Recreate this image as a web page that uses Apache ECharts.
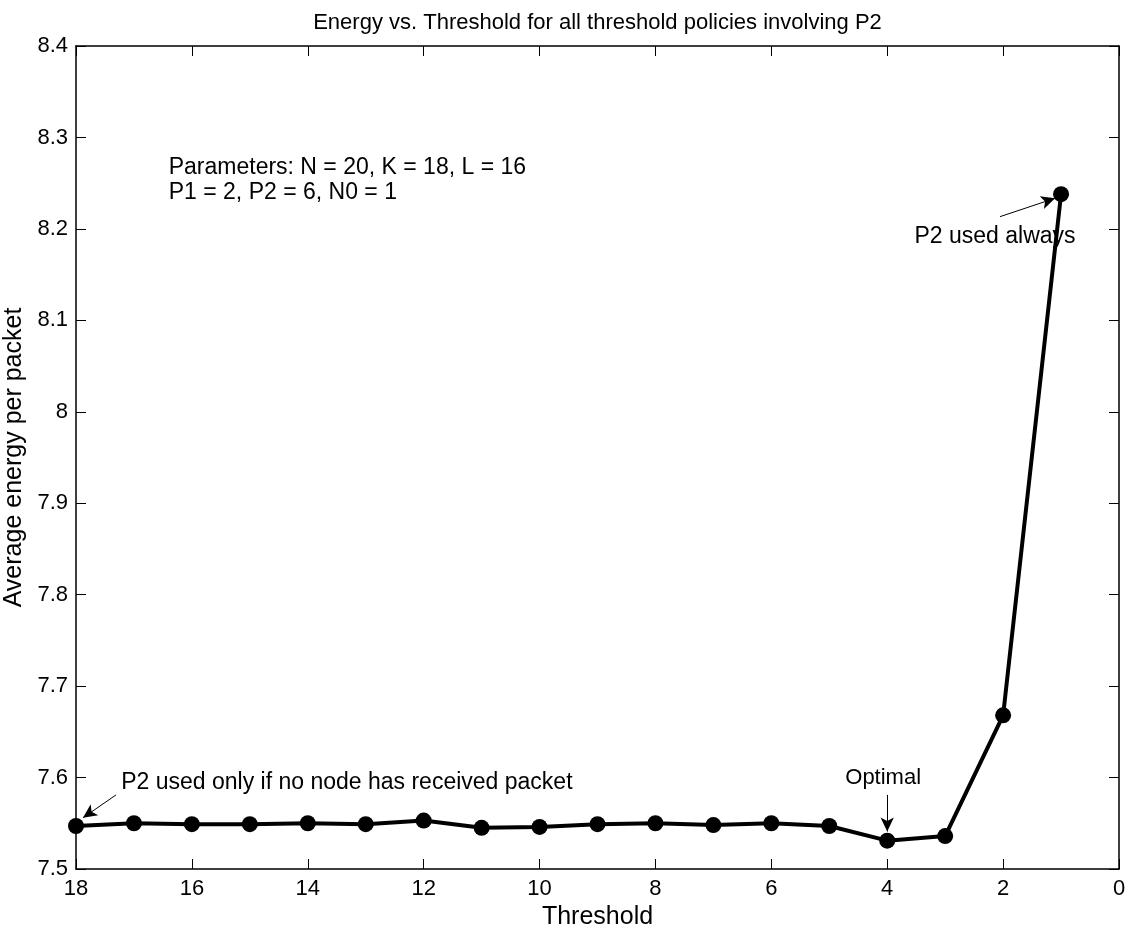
<!DOCTYPE html>
<html>
<head>
<meta charset="utf-8">
<script src="https://cdn.jsdelivr.net/npm/echarts@6/dist/echarts.min.js"></script>
<style>
html,body{margin:0;padding:0;background:#fff;}
#c{width:1137px;height:933px;}
</style>
</head>
<body>
<div id="c"></div>
<script>
// Data
const thresholds = [18,17,16,15,14,13,12,11,10,9,8,7,6,5,4,3,2,1];
const energy = [7.547,7.550,7.549,7.549,7.550,7.549,7.553,7.545,7.546,7.549,7.550,7.548,7.550,7.547,7.531,7.536,7.668,8.238];
const xTicks = [0,2,4,6,8,10,12,14,16,18];
const yTicks = [7.5,7.6,7.7,7.8,7.9,8.0,8.1,8.2,8.3,8.4];

const titleText = 'Energy vs. Threshold for all threshold policies involving P2';
const xName = 'Threshold';
const yName = 'Average energy per packet';
const paramText = ['Parameters: N = 20, K = 18, L = 16', 'P1 = 2, P2 = 6, N0 = 1'];

// annotations in data coordinates
const annoTexts = [
  {text:'P2 used only if no node has received packet', at:[17.22, 7.594], align:'left', size:23},
  {text:'Optimal', at:[4.07, 7.5995], align:'center', size:22},
  {text:'P2 used always', at:[2.14, 8.192], align:'center', size:23}
];
const annoArrows = [
  {from:[17.31, 7.581], to:[17.88, 7.556]},
  {from:[4.0, 7.581], to:[4.0, 7.541]},
  {from:[2.053, 8.2134], to:[1.103, 8.2335]}
];
const paramAt = [16.40, 8.253];

const FONT = 'Liberation Sans, Arial, Helvetica, sans-serif';
const FS_TICK = 22;
const FS_NAME = 25;
const FS_TITLE = 22;
const FS_ANNO = 23;

const chart = echarts.init(document.getElementById('c'), null, {renderer:'canvas'});

const axisCommon = {
  type:'value',
  axisLine:{show:true, onZero:false, lineStyle:{color:'#000', width:1.5}},
  axisTick:{show:true, inside:true, length:10, lineStyle:{color:'#000', width:1}},
  splitLine:{show:false}
};

const data = thresholds.map((t,i)=>[t, energy[i]]);

chart.setOption({
  animation:false,
  backgroundColor:'#fff',
  grid:{left:76, right:18, top:46, bottom:64, containLabel:false, outerBoundsMode:'none'},
  xAxis:[
    Object.assign({}, axisCommon, {
      position:'bottom', min:0, max:18, interval:2, inverse:true,
      name:xName, nameLocation:'middle', nameGap:33,
      nameTextStyle:{color:'#000', fontSize:FS_NAME, fontFamily:FONT},
      axisLabel:{color:'#000', fontSize:FS_TICK, fontFamily:FONT, margin:9}
    }),
    Object.assign({}, axisCommon, {
      position:'top', min:0, max:18, interval:2, inverse:true,
      axisLabel:{show:false}
    })
  ],
  yAxis:[
    Object.assign({}, axisCommon, {
      position:'left', min:7.5, max:8.4, interval:0.1,
      name:yName, nameLocation:'middle', nameGap:39,
      nameTextStyle:{color:'#000', fontSize:FS_NAME, fontFamily:FONT},
      axisLabel:{color:'#000', fontSize:FS_TICK, fontFamily:FONT, margin:8,
        formatter:v=>{ const r = Math.round(v*10)/10; return (Math.abs(r-8)<1e-9)?'8':r.toFixed(1);} }
    }),
    Object.assign({}, axisCommon, {
      position:'right', min:7.5, max:8.4, interval:0.1,
      axisLabel:{show:false}
    })
  ],
  series:[{
    type:'line',
    data:data,
    xAxisIndex:0, yAxisIndex:0,
    symbol:'circle', symbolSize:16,
    lineStyle:{color:'#000', width:4},
    itemStyle:{color:'#000'},
    z:3,
    markLine:{
      silent:true,
      symbol:['none','arrow'],
      symbolSize:[10,14],
      label:{show:false},
      lineStyle:{color:'#000', width:1, type:'solid'},
      data: annoArrows.map(a=>[{coord:a.from},{coord:a.to}])
    }
  }]
});

function placeGraphics(){
  const els = [];
  const plotCenter = (76 + (1137-18))/2;
  els.push({type:'text', x:plotCenter, y:23, style:{text:titleText, fill:'#000', font:FS_TITLE+'px '+FONT, textAlign:'center', textVerticalAlign:'middle'}});
  annoTexts.forEach(a=>{
    const p = chart.convertToPixel({xAxisIndex:0, yAxisIndex:0}, a.at);
    els.push({type:'text', x:p[0], y:p[1], style:{text:a.text, fill:'#000', font:a.size+'px '+FONT, textAlign:a.align, textVerticalAlign:'middle'}});
  });
  const pp = chart.convertToPixel({xAxisIndex:0, yAxisIndex:0}, paramAt);
  els.push({type:'text', x:pp[0], y:pp[1], style:{text:paramText.join('\n'), fill:'#000', font:FS_ANNO+'px '+FONT, textAlign:'left', textVerticalAlign:'middle', lineHeight:25}});
  chart.setOption({graphic:{elements:els}});
}
placeGraphics();
</script>
</body>
</html>
